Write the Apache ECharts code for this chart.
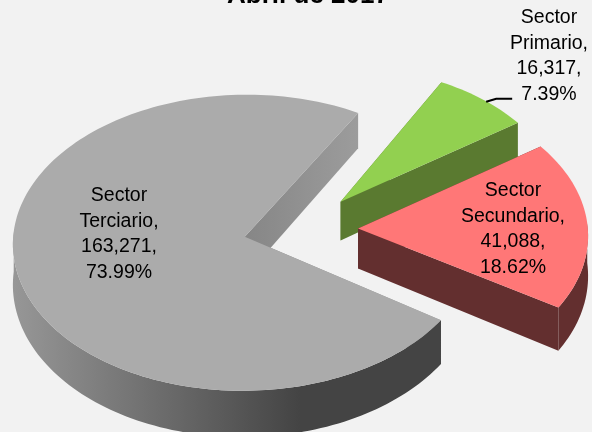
<!DOCTYPE html>
<html><head><meta charset="utf-8">
<style>html,body{margin:0;padding:0;background:#f2f2f2}#c{width:592px;height:432px}</style>
<script src="https://cdn.jsdelivr.net/npm/echarts@6/dist/echarts.min.js"></script>
</head><body><div id="c"></div>
<script>
var chartTitle = 'Abril de 2017';
var names = ['Sector\nTerciario', 'Sector\nPrimario', 'Sector\nSecundario'];
var values = [163271, 16317, 41088];

var total = values.reduce(function (a, b) { return a + b; }, 0);
var startDeg = 32;
var view = { cx: 303, cy: 228, rx: 231, ry: 147, explode: 0.26, persp: 0.04, depth: 40, depthGrow: 6 };
var styles = [
  { top: '#ababab', rim: [[0, '#979797'], [0.67, '#444444'], [1, '#444444']], face: [[0, '#868686'], [1, '#9c9c9c']], label: [119, 234], nudge: [0, -1], scale: 1, rot: 1.5 },
  { top: '#92d050', rim: [[0, '#5a7a30'], [1, '#5a7a30']], face: [[0, '#5a7a30'], [1, '#5a7a30']], label: [549, 56], nudge: [-2, 2], scale: 0.97, rot: 0 },
  { top: '#ff7777', rim: [[0, '#632f2f'], [1, '#632f2f']], face: [[0, '#632f2f'], [1, '#632f2f']], label: [513, 229], nudge: [-5, 1.5], scale: 0.995, rot: 0 }
];

function project(wx, wy, down, st) {
  var s = 1 / (1 - view.persp * wy);
  var dep = down ? (view.depth + view.depthGrow * wy) : 0;
  return [view.cx + view.rx * wx * s + st.nudge[0], view.cy + view.ry * wy * s + dep + st.nudge[1]];
}
function grad(stops) {
  return { type: 'linear', x: 0, y: 0, x2: 1, y2: 0, colorStops: stops.map(function (s) { return { offset: s[0], color: s[1] }; }) };
}
function fmt(v) { return String(v).replace(/\B(?=(\d{3})+$)/g, ','); }

function renderItem(params, api) {
  var i = params.dataIndex, st = styles[i], a0 = startDeg;
  for (var j = 0; j < i; j++) a0 += values[j] / total * 360;
  var a1 = a0 + values[i] / total * 360, mid = (a0 + a1) / 2 * Math.PI / 180;
  var ox = view.explode * Math.cos(mid), oy = view.explode * Math.sin(mid);
  a0 += st.rot; a1 += st.rot;
  var arcTop = [], arcBot = [], rimTop = [], rimBot = [];
  for (var d = a0; ; d += 1.5) {
    if (d > a1) d = a1;
    var t = d * Math.PI / 180, wx = ox + st.scale * Math.cos(t), wy = oy + st.scale * Math.sin(t);
    var pt = project(wx, wy, false, st), pb = project(wx, wy, true, st);
    arcTop.push(pt); arcBot.push(pb);
    if (Math.sin(t) >= -0.05) { rimTop.push(pt); rimBot.push(pb); }
    if (d === a1) break;
  }
  var apexT = project(ox, oy, false, st), apexB = project(ox, oy, true, st);
  var n = arcTop.length - 1;
  var kids = [
    { type: 'polygon', shape: { points: [apexT, arcTop[0], arcBot[0], apexB] }, style: { fill: grad(st.face) } },
    { type: 'polygon', shape: { points: [apexT, arcTop[n], arcBot[n], apexB] }, style: { fill: grad(st.face) } }
  ];
  if (rimTop.length > 1) {
    kids.push({ type: 'polygon', shape: { points: rimTop.concat(rimBot.slice().reverse()) }, style: { fill: grad(st.rim) } });
  }
  kids.push({ type: 'polygon', shape: { points: [apexT].concat(arcTop) }, style: { fill: st.top } });
  var pct = (values[i] / total * 100).toFixed(2) + '%';
  var txt = names[i] + ',\n' + fmt(values[i]) + ',\n' + pct;
  if (i === 1) {
    var e = project(ox + st.scale * Math.cos(mid), oy + st.scale * Math.sin(mid), false, st);
    kids.push({ type: 'polyline', shape: { points: [[e[0] + 3, e[1] + 2], [e[0] + 13, e[1] - 1], [e[0] + 29, e[1] - 1]] }, style: { fill: null, stroke: '#000', lineWidth: 2 } });
  }
  kids.push({ type: 'text', style: { text: txt, x: st.label[0], y: st.label[1], align: 'center', verticalAlign: 'middle', fill: '#000', font: '19.5px "Liberation Sans", Arial, sans-serif', lineHeight: 25.5 } });
  return { type: 'group', children: kids };
}

var chart = echarts.init(document.getElementById('c'), null, { renderer: 'canvas' });
chart.setOption({
  backgroundColor: '#f2f2f2',
  animation: false,
  title: { text: chartTitle, left: 303, textAlign: 'center', top: -22, textStyle: { fontFamily: 'Liberation Sans', fontWeight: 'bold', fontSize: 26, color: '#000' } },
  series: [{
    type: 'custom', coordinateSystem: 'none', silent: true, renderItem: renderItem,
    data: values.map(function (v, i) { return { name: names[i], value: v }; })
  }]
});
</script></body></html>
